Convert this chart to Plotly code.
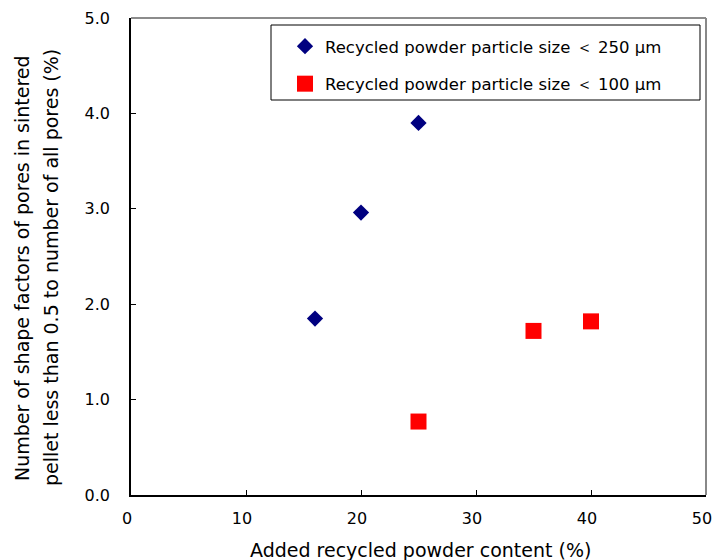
import plotly.graph_objects as go

x_250 = [16, 20, 25]
y_250 = [1.85, 2.96, 3.90]
x_100 = [25, 35, 40]
y_100 = [0.77, 1.72, 1.82]
name_250 = "Recycled powder particle size ＜ 250 μm"
name_100 = "Recycled powder particle size ＜ 100 μm"
x_ticks = [0, 10, 20, 30, 40, 50]
x_ticktext = ["0", "10", "20", "30", "40", "50"]
y_ticks = [0, 1, 2, 3, 4, 5]
y_ticktext = ["0.0", "1.0", "2.0", "3.0", "4.0", "5.0"]
x_title = "Added recycled powder content (%)"
y_title_1 = "Number of shape factors of pores in sintered"
y_title_2 = "pellet less than 0.5 to number of all pores (%)"

FONT = "DejaVu Sans, Liberation Sans, sans-serif"

fig = go.Figure()
fig.add_trace(go.Scatter(x=x_250, y=y_250, mode="markers", name=name_250,
                         legendgroup="a",
                         marker=dict(symbol="diamond", size=12.5, color="#000080")))
fig.add_trace(go.Scatter(x=x_100, y=y_100, mode="markers", name=name_100,
                         legendgroup="b",
                         marker=dict(symbol="square", size=16, color="#ff0000")))

# body margin is removed by the post script, so the figure fills the window
OFF = 0
W, H = 715 - OFF, 560 - OFF
L, R, T, B = 131 - OFF, 9, 18 - OFF, 65
pw, ph = W - L - R, H - T - B

def px(xp):
    return (xp - OFF - L) / pw

def py(yp):
    return (H + OFF - B - yp) / ph

fig.update_layout(
    width=W, height=H,
    margin=dict(l=L, r=R, t=T, b=B, autoexpand=False),
    paper_bgcolor="white", plot_bgcolor="white",
    font=dict(family=FONT, size=16, color="black"),
    showlegend=True,
    legend=dict(x=px(285), y=py(29), xanchor="left", yanchor="top",
                bgcolor="rgba(0,0,0,0)", borderwidth=0,
                font=dict(family=FONT, size=16.5), tracegroupgap=13,
                itemwidth=30),
    xaxis=dict(range=[0, 50], tickvals=x_ticks, ticktext=x_ticktext,
               ticks="inside", ticklen=5,
               tickcolor="black", showline=True, linecolor="black", linewidth=1.5,
               showgrid=False, zeroline=False, tickfont=dict(size=16),
               ticklabelstandoff=8, ticklabelshift=-4,
               ticklabeloverflow="allow", automargin=False),
    yaxis=dict(range=[0, 5], tickvals=y_ticks, ticktext=y_ticktext, ticks="inside",
               ticklen=5, tickcolor="black", showline=True, linecolor="black",
               linewidth=1.5, showgrid=False, zeroline=False, tickfont=dict(size=16),
               ticklabelstandoff=16, automargin=False),
    annotations=[
        dict(text=x_title, xref="paper", yref="paper", x=px(420), y=py(550),
             xanchor="center", yanchor="middle", showarrow=False,
             font=dict(size=19)),
        dict(text=y_title_1, xref="paper", yref="paper", x=px(22), y=py(268),
             xanchor="center", yanchor="middle", showarrow=False, textangle=-90,
             font=dict(size=19)),
        dict(text=y_title_2, xref="paper", yref="paper", x=px(51), y=py(268),
             xanchor="center", yanchor="middle", showarrow=False, textangle=-90,
             font=dict(size=19)),
    ],
    shapes=[
        dict(type="line", xref="paper", yref="paper", x0=0, x1=1, y0=1, y1=1,
             line=dict(color="#666666", width=1.5)),
        dict(type="line", xref="paper", yref="paper", x0=1, x1=1, y0=0, y1=1,
             line=dict(color="#888888", width=2)),
        dict(type="rect", xref="paper", yref="paper", x0=px(271), x1=px(700),
             y0=py(100), y1=py(25), line=dict(color="black", width=1)),
    ],
)

fig.write_html("out.html", config={"displayModeBar": False},
               post_script="document.body.style.margin='0';document.body.style.overflow='hidden';")
